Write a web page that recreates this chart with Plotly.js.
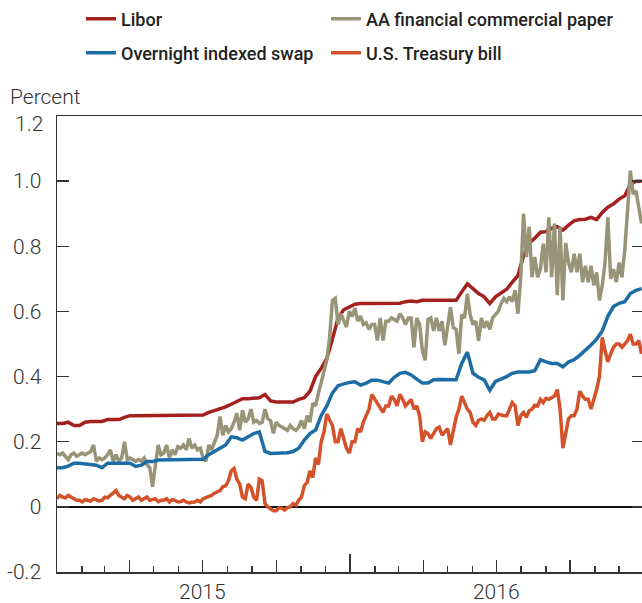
<!DOCTYPE html>
<html><head><meta charset="utf-8">
<script src="https://cdn.plot.ly/plotly-3.0.1.min.js"></script>
<style>html,body{margin:0;padding:0;overflow:hidden;background:#fff}</style>
</head><body><div id="chart"></div>
<script>
// Observations start 2015-01-01; Libor and OIS read weekly,
// AA commercial paper and T-bill read at half-week spacing
const seriesStart = '2015-01-01';
const weeklyStepDays = 7;
const halfWeekStepDays = 3.5;

const libor = [
0.256,0.256,0.26,0.25,0.25,0.26,0.262,0.262,0.262,0.268,
0.268,0.268,0.275,0.28,0.28,0.28,0.28,0.28,0.282,0.282,
0.282,0.282,0.282,0.282,0.282,0.282,0.282,0.29,0.295,0.30,
0.307,0.315,0.325,0.332,0.332,0.333,0.335,0.345,0.325,0.322,
0.322,0.322,0.322,0.33,0.335,0.355,0.40,0.425,0.455,0.515,
0.58,0.605,0.615,0.622,0.624,0.624,0.624,0.624,0.624,0.624,
0.624,0.625,0.63,0.632,0.63,0.634,0.634,0.634,0.634,0.634,
0.634,0.634,0.66,0.685,0.67,0.655,0.645,0.624,0.645,0.658,
0.668,0.69,0.71,0.77,0.81,0.825,0.843,0.845,0.855,0.86,
0.85,0.865,0.878,0.882,0.883,0.889,0.882,0.904,0.92,0.93,
0.945,0.955,0.99,1.0,1.0];

const ois = [
0.12,0.12,0.125,0.134,0.134,0.132,0.128,0.128,0.12,0.134,
0.134,0.134,0.134,0.134,0.124,0.128,0.139,0.139,0.144,0.144,
0.144,0.144,0.144,0.144,0.144,0.144,0.146,0.16,0.17,0.178,
0.19,0.215,0.212,0.205,0.215,0.225,0.23,0.17,0.164,0.164,
0.164,0.166,0.17,0.18,0.205,0.225,0.236,0.28,0.31,0.35,
0.372,0.378,0.382,0.384,0.374,0.38,0.389,0.389,0.385,0.38,
0.398,0.41,0.413,0.405,0.392,0.38,0.38,0.39,0.391,0.391,
0.39,0.39,0.44,0.475,0.41,0.398,0.39,0.358,0.385,0.392,
0.4,0.41,0.414,0.414,0.414,0.418,0.452,0.445,0.44,0.44,
0.43,0.445,0.452,0.465,0.48,0.497,0.515,0.54,0.585,0.615,
0.625,0.63,0.655,0.665,0.67];

const tbill = [
0.025,0.035,0.03,0.028,0.035,0.03,0.028,0.02,0.02,0.015,
0.022,0.02,0.018,0.025,0.022,0.018,0.02,0.03,0.028,0.035,
0.045,0.05,0.035,0.03,0.025,0.035,0.03,0.02,0.025,0.03,
0.02,0.025,0.03,0.02,0.022,0.025,0.016,0.02,0.02,0.025,
0.015,0.022,0.02,0.015,0.016,0.02,0.015,0.012,0.014,0.015,
0.02,0.015,0.025,0.028,0.03,0.035,0.042,0.045,0.05,0.062,
0.065,0.08,0.11,0.118,0.085,0.07,0.03,0.025,0.07,0.06,
0.03,0.02,0.085,0.08,0.01,0.0,-0.005,-0.012,-0.012,-0.003,
-0.004,-0.01,-0.002,0.0,0.01,0.005,0.02,0.03,0.065,0.075,
0.11,0.09,0.15,0.13,0.2,0.23,0.285,0.27,0.25,0.2,
0.2,0.24,0.21,0.18,0.165,0.2,0.2,0.24,0.23,0.26,
0.28,0.3,0.345,0.33,0.32,0.3,0.29,0.31,0.31,0.34,
0.33,0.31,0.345,0.33,0.31,0.32,0.33,0.3,0.31,0.28,
0.2,0.23,0.225,0.21,0.226,0.24,0.245,0.22,0.23,0.24,
0.19,0.24,0.275,0.3,0.34,0.32,0.3,0.29,0.26,0.25,
0.266,0.27,0.266,0.28,0.29,0.27,0.27,0.285,0.282,0.28,
0.28,0.3,0.32,0.31,0.25,0.28,0.29,0.275,0.295,0.3,
0.312,0.31,0.33,0.32,0.333,0.33,0.335,0.34,0.36,0.3,
0.18,0.22,0.27,0.28,0.28,0.3,0.355,0.34,0.33,0.33,
0.3,0.33,0.36,0.4,0.52,0.48,0.445,0.47,0.49,0.5,
0.5,0.49,0.5,0.51,0.53,0.5,0.5,0.51,0.47];

const cpaper = [
0.164,0.16,0.165,0.155,0.145,0.16,0.165,0.155,0.16,0.165,
0.16,0.165,0.17,0.19,0.14,0.15,0.145,0.15,0.16,0.175,
0.14,0.16,0.14,0.15,0.2,0.145,0.15,0.145,0.14,0.145,
0.14,0.15,0.13,0.12,0.062,0.128,0.19,0.16,0.165,0.19,
0.15,0.175,0.16,0.185,0.18,0.19,0.175,0.21,0.18,0.19,
0.175,0.18,0.15,0.14,0.19,0.175,0.2,0.22,0.277,0.22,
0.25,0.23,0.24,0.26,0.287,0.235,0.297,0.26,0.27,0.3,
0.26,0.265,0.256,0.26,0.3,0.27,0.265,0.226,0.26,0.25,
0.245,0.24,0.235,0.25,0.24,0.235,0.245,0.265,0.24,0.28,
0.26,0.318,0.31,0.348,0.38,0.41,0.45,0.52,0.634,0.64,
0.56,0.593,0.575,0.552,0.6,0.585,0.61,0.57,0.586,0.56,
0.565,0.545,0.56,0.56,0.511,0.58,0.511,0.57,0.57,0.58,
0.575,0.57,0.593,0.58,0.56,0.58,0.58,0.49,0.58,0.56,
0.48,0.45,0.575,0.58,0.54,0.58,0.54,0.57,0.496,0.56,
0.613,0.55,0.545,0.47,0.59,0.58,0.654,0.59,0.56,0.57,
0.51,0.58,0.55,0.57,0.545,0.58,0.59,0.6,0.624,0.64,
0.63,0.645,0.63,0.665,0.593,0.705,0.9,0.767,0.86,0.705,
0.767,0.705,0.73,0.808,0.72,0.889,0.705,0.87,0.65,0.86,
0.634,0.81,0.75,0.72,0.777,0.72,0.777,0.69,0.74,0.69,
0.74,0.68,0.72,0.634,0.68,0.75,0.889,0.7,0.73,0.69,
0.75,0.705,0.787,0.92,1.032,0.96,0.97,0.92,0.87];

const seriesNames = ['Libor', 'AA financial commercial paper', 'Overnight indexed swap', 'U.S. Treasury bill'];
const seriesColors = ['#a3201f', '#979478', '#1c6ca5', '#d4522a'];

const quarterTicks = ['2015-04-01','2015-07-01','2015-10-01','2016-01-01','2016-04-01','2016-07-01','2016-10-01'];
const quarterText  = ['', '2015', '', '', '', '2016', ''];
const yearTicks = ['2016-01-01'];
const yTickVals = [-0.2, 0, 0.2, 0.4, 0.6, 0.8, 1.0, 1.2];
const yTickText = ['-0.2', '0', '0.2', '0.4', '0.6', '0.8', '1.0', ''];
const yTopLabel = '1.2';
const yTopValue = 1.2;

function dateSeries(n, stepDays) {
  const t0 = Date.parse(seriesStart + 'T00:00:00Z');
  const out = [];
  for (let i = 0; i < n; i++) {
    const d = new Date(t0 + i * stepDays * 86400000);
    out.push(d.toISOString().slice(0, 16).replace('T', ' '));
  }
  return out;
}
const weekDates = dateSeries(libor.length, weeklyStepDays);
const cpDates = dateSeries(cpaper.length, halfWeekStepDays);
const tbDates = dateSeries(tbill.length, halfWeekStepDays);

const lineW = 3.5;
const traces = [
  {x: weekDates, y: libor, name: seriesNames[0], legend: 'legend', legendrank: 1, legendwidth: 200},
  {x: cpDates, y: cpaper, name: seriesNames[1], legend: 'legend', legendrank: 2, legendwidth: 255},
  {x: weekDates, y: ois, name: seriesNames[2], legend: 'legend2', legendrank: 1, legendwidth: 200},
  {x: tbDates, y: tbill, name: seriesNames[3], legend: 'legend2', legendrank: 2, legendwidth: 255}
].map((t, i) => Object.assign(t, {
  type: 'scatter', mode: 'lines',
  line: {color: seriesColors[i], width: lineW},
  hoverinfo: 'skip'
}));
// empty trace so the overlay axis carrying the year-boundary tick is drawn
traces.push({type: 'scatter', mode: 'lines', x: yearTicks, y: [null], xaxis: 'x2', yaxis: 'y',
             showlegend: false, hoverinfo: 'skip'});

const axisColor = '#333';
const tickFont = {family: 'Roboto', size: 21, weight: 300, color: '#333'};
const legendFont = {family: 'Roboto', size: 18, weight: 500, color: '#222'};

const legendCommon = {
  orientation: 'h', x: 0.0409, xanchor: 'left', yanchor: 'middle',
  entrywidthmode: 'pixels', font: legendFont,
  bgcolor: 'rgba(0,0,0,0)', borderwidth: 0
};

const layout = {
  width: 646, height: 603,
  margin: {l: 57, r: 2, t: 116, b: 31, autoexpand: false},
  paper_bgcolor: '#fff', plot_bgcolor: '#fff',
  font: {family: 'Roboto', color: '#333'},
  showlegend: true,
  xaxis: {
    type: 'date', range: ['2015-01-01', '2017-01-01'],
    showline: true, linecolor: axisColor, linewidth: 1.5, mirror: true,
    showgrid: false, zeroline: false,
    tickmode: 'array', tickvals: quarterTicks, ticktext: quarterText,
    ticks: 'inside', ticklen: 12, tickwidth: 1.3, tickcolor: axisColor,
    tickfont: tickFont,
    minor: {ticks: 'inside', ticklen: 6, tickwidth: 1.3, tickcolor: axisColor,
            dtick: 'M1', tick0: '2015-01-01', showgrid: false}
  },
  xaxis2: {
    type: 'date', range: ['2015-01-01', '2017-01-01'],
    overlaying: 'x', anchor: 'y', side: 'bottom',
    showline: false, showgrid: false, zeroline: false, showticklabels: false,
    tickmode: 'array', tickvals: yearTicks,
    ticks: 'inside', ticklen: 18, tickwidth: 1.3, tickcolor: axisColor
  },
  yaxis: {
    range: [-0.2, 1.2],
    showline: true, linecolor: axisColor, linewidth: 1.5, mirror: 'ticks',
    showgrid: false,
    zeroline: true, zerolinecolor: '#111', zerolinewidth: 2.6,
    tickmode: 'array', tickvals: yTickVals, ticktext: yTickText,
    ticks: 'inside', ticklen: 12, tickwidth: 1.3, tickcolor: axisColor,
    ticklabelstandoff: 10,
    tickfont: tickFont
  },
  legend: Object.assign({}, legendCommon, {y: 1.2127}),
  legend2: Object.assign({}, legendCommon, {y: 1.138}),
  annotations: [{
    text: 'Percent', xref: 'paper', yref: 'paper',
    x: -0.0835, xanchor: 'left', y: 1.0417, yanchor: 'middle',
    showarrow: false, font: tickFont
  }, {
    text: yTopLabel, xref: 'paper', yref: 'y',
    x: 0, xanchor: 'right', xshift: -12, y: yTopValue, yanchor: 'middle', yshift: -8,
    showarrow: false, font: tickFont
  }]
};

Plotly.newPlot('chart', traces, layout, {displayModeBar: false, staticPlot: true});
</script></body></html>
